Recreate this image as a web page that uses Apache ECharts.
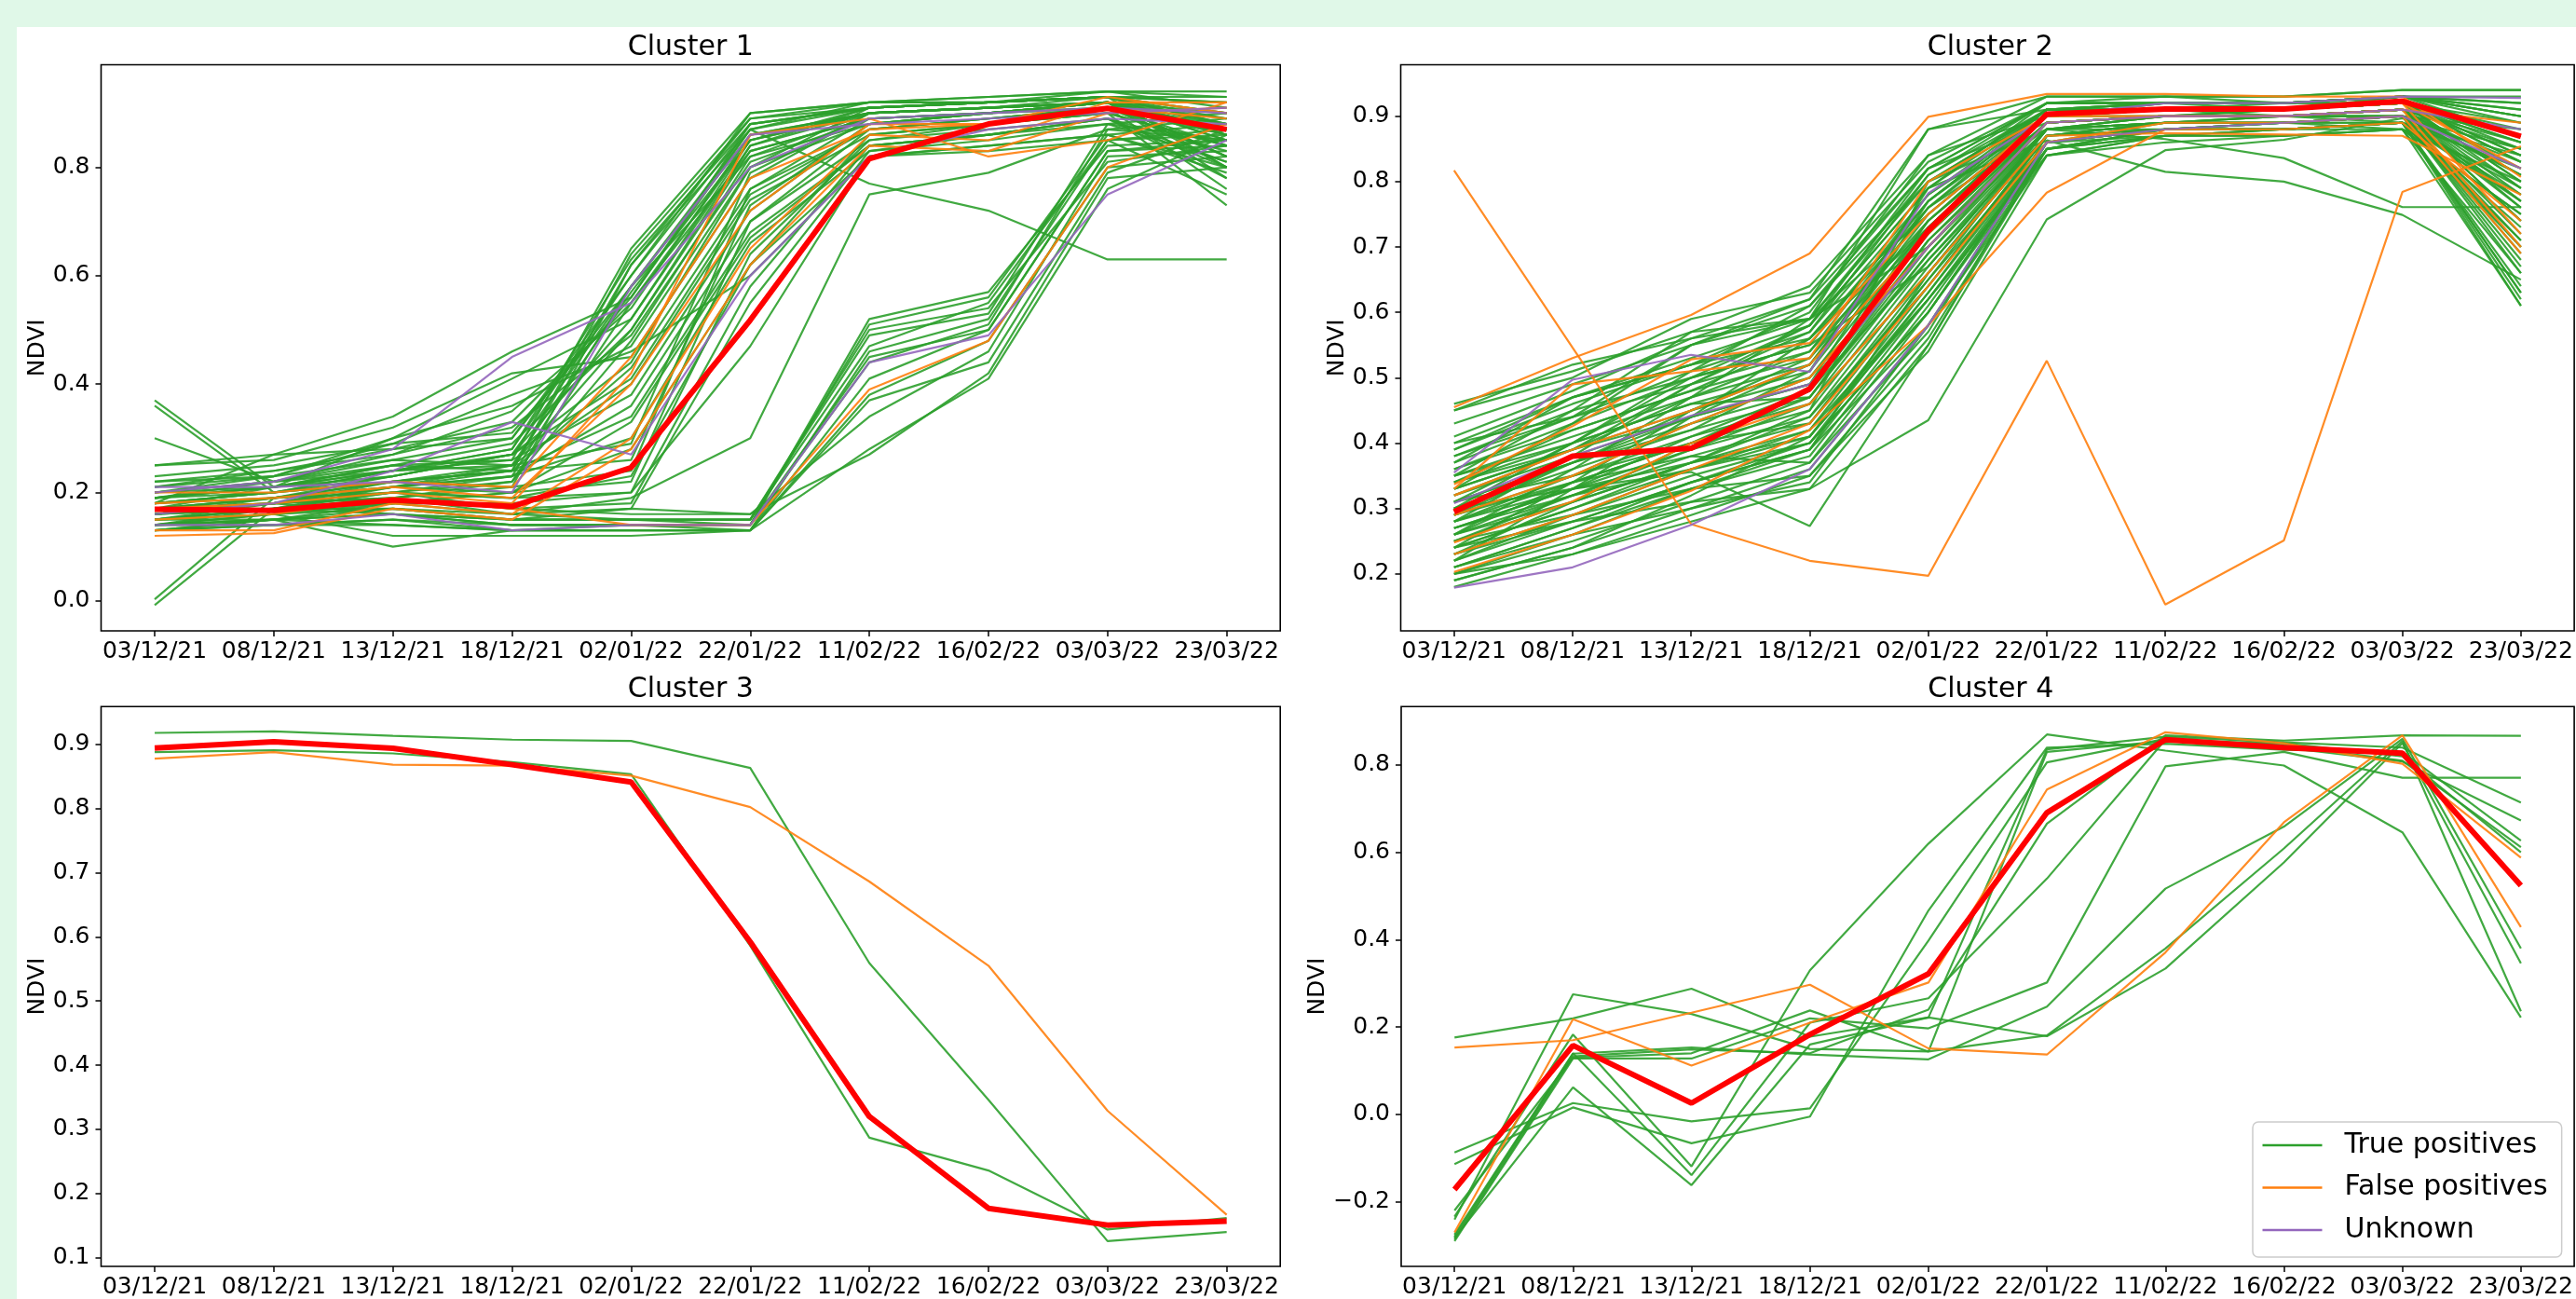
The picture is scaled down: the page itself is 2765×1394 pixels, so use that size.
<!DOCTYPE html>
<html>
<head>
<meta charset="utf-8">
<title>NDVI clusters</title>
<script src="https://cdn.jsdelivr.net/npm/echarts@6.0.0/dist/echarts.min.js"></script>
<style>
  html, body { margin: 0; padding: 0; background: #e0f8e8; }
  #chart { width: 2765px; height: 1394px; }
</style>
</head>
<body>
<div id="chart"></div>
<script>
const dates = ['03/12/21', '08/12/21', '13/12/21', '18/12/21', '02/01/22',
               '22/01/22', '11/02/22', '16/02/22', '03/03/22', '23/03/22'];
const titles = ['Cluster 1', 'Cluster 2', 'Cluster 3', 'Cluster 4'];
const legendNames = ['True positives', 'False positives', 'Unknown'];

// y ranges and tick values
const yRanges = [[-0.0554, 0.9893], [0.1128, 0.9787], [0.0866, 0.9586], [-0.348, 0.934]];
const yTicks = [
  [0, 0.2, 0.4, 0.6, 0.8],
  [0.2, 0.3, 0.4, 0.5, 0.6, 0.7, 0.8, 0.9],
  [0.1, 0.2, 0.3, 0.4, 0.5, 0.6, 0.7, 0.8, 0.9],
  [-0.2, 0, 0.2, 0.4, 0.6, 0.8]
];

// ---- Cluster 1 ----
const c1True = [
  [0.18,0.20,0.24,0.26,0.65,0.90,0.92,0.92,0.93,0.93],
  [0.16,0.19,0.22,0.24,0.64,0.89,0.92,0.93,0.94,0.94],
  [0.20,0.22,0.26,0.30,0.60,0.88,0.91,0.92,0.93,0.92],
  [0.15,0.18,0.21,0.23,0.58,0.86,0.90,0.91,0.92,0.90],
  [0.22,0.24,0.28,0.33,0.55,0.85,0.91,0.92,0.93,0.88],
  [0.17,0.19,0.23,0.27,0.52,0.84,0.90,0.91,0.92,0.86],
  [0.19,0.21,0.25,0.29,0.50,0.83,0.89,0.90,0.91,0.84],
  [0.14,0.17,0.20,0.22,0.48,0.82,0.88,0.90,0.92,0.82],
  [0.21,0.23,0.30,0.36,0.47,0.80,0.91,0.92,0.93,0.80],
  [0.25,0.26,0.32,0.42,0.45,0.78,0.90,0.91,0.92,0.78],
  [0.16,0.18,0.22,0.24,0.43,0.76,0.87,0.89,0.91,0.76],
  [0.18,0.20,0.24,0.25,0.40,0.74,0.86,0.88,0.90,0.73],
  [0.20,0.21,0.25,0.26,0.38,0.72,0.88,0.90,0.92,0.80],
  [0.15,0.17,0.21,0.23,0.36,0.70,0.85,0.87,0.89,0.83],
  [0.17,0.19,0.22,0.24,0.34,0.68,0.84,0.86,0.88,0.85],
  [0.23,0.25,0.29,0.31,0.56,0.87,0.92,0.92,0.94,0.91],
  [0.14,0.16,0.19,0.21,0.62,0.89,0.91,0.92,0.93,0.89],
  [0.19,0.22,0.27,0.35,0.54,0.86,0.90,0.91,0.92,0.87],
  [0.30,0.22,0.24,0.28,0.60,0.90,0.92,0.93,0.94,0.93],
  [0.36,0.20,0.22,0.25,0.50,0.84,0.91,0.92,0.93,0.90],
  [0.37,0.21,0.23,0.27,0.44,0.80,0.88,0.90,0.91,0.88],
  [0.25,0.27,0.28,0.30,0.58,0.82,0.90,0.91,0.92,0.85],
  [0.16,0.18,0.20,0.23,0.30,0.66,0.83,0.85,0.88,0.81],
  [0.18,0.27,0.34,0.46,0.56,0.88,0.91,0.92,0.93,0.92],
  [0.17,0.21,0.30,0.41,0.52,0.85,0.90,0.91,0.93,0.86],
  [0.20,0.23,0.29,0.38,0.46,0.60,0.82,0.84,0.86,0.79],
  [0.13,0.15,0.18,0.20,0.28,0.62,0.82,0.83,0.85,0.75],
  [0.003,0.19,0.21,0.24,0.62,0.87,0.91,0.92,0.93,0.88],
  [-0.008,0.17,0.19,0.22,0.55,0.83,0.89,0.90,0.92,0.82],
  [0.17,0.18,0.19,0.16,0.19,0.30,0.75,0.79,0.87,0.85],
  [0.19,0.21,0.24,0.27,0.58,0.87,0.77,0.72,0.63,0.63],
  [0.15,0.17,0.20,0.19,0.20,0.47,0.82,0.84,0.86,0.80],
  [0.17,0.19,0.21,0.20,0.22,0.70,0.87,0.89,0.91,0.86],
  [0.15,0.17,0.18,0.18,0.20,0.64,0.85,0.88,0.90,0.84],
  [0.19,0.20,0.22,0.21,0.24,0.76,0.89,0.90,0.92,0.89],
  [0.16,0.18,0.19,0.17,0.18,0.58,0.84,0.86,0.89,0.81],
  [0.19,0.21,0.24,0.28,0.63,0.88,0.91,0.92,0.93,0.90],
  [0.16,0.18,0.21,0.25,0.57,0.85,0.90,0.91,0.92,0.87],
  [0.21,0.24,0.27,0.32,0.49,0.81,0.89,0.90,0.92,0.85],
  [0.18,0.20,0.23,0.27,0.41,0.75,0.87,0.89,0.91,0.82],
  [0.14,0.16,0.18,0.20,0.33,0.67,0.84,0.86,0.89,0.78],
  [0.20,0.22,0.25,0.24,0.26,0.73,0.88,0.90,0.92,0.87],
  [0.17,0.18,0.20,0.19,0.23,0.62,0.86,0.88,0.90,0.84],
  [0.13,0.15,0.17,0.16,0.17,0.55,0.83,0.86,0.89,0.80],
  [0.22,0.23,0.26,0.25,0.29,0.79,0.90,0.91,0.92,0.88],
  [0.15,0.16,0.17,0.15,0.15,0.14,0.52,0.57,0.84,0.85],
  [0.14,0.15,0.16,0.14,0.14,0.14,0.51,0.56,0.86,0.88],
  [0.16,0.17,0.18,0.16,0.15,0.15,0.49,0.53,0.88,0.90],
  [0.13,0.14,0.15,0.13,0.13,0.13,0.46,0.52,0.85,0.86],
  [0.17,0.18,0.16,0.14,0.14,0.14,0.45,0.50,0.83,0.84],
  [0.14,0.15,0.10,0.13,0.13,0.13,0.38,0.48,0.80,0.82],
  [0.15,0.16,0.12,0.12,0.12,0.13,0.37,0.44,0.79,0.87],
  [0.13,0.14,0.14,0.13,0.13,0.13,0.28,0.41,0.76,0.86],
  [0.18,0.19,0.20,0.17,0.16,0.16,0.27,0.42,0.78,0.80],
  [0.16,0.17,0.17,0.15,0.17,0.16,0.34,0.46,0.82,0.83],
  [0.14,0.14,0.15,0.14,0.14,0.14,0.44,0.51,0.87,0.89],
  [0.15,0.15,0.16,0.15,0.15,0.15,0.50,0.54,0.81,0.84],
  [0.16,0.17,0.16,0.15,0.15,0.15,0.47,0.55,0.85,0.87],
  [0.14,0.15,0.14,0.13,0.14,0.13,0.41,0.50,0.83,0.85]
];
const c1False = [
  [0.13,0.13,0.18,0.16,0.30,0.65,0.86,0.85,0.92,0.92],
  [0.12,0.125,0.17,0.15,0.28,0.62,0.84,0.83,0.90,0.91],
  [0.20,0.20,0.22,0.21,0.45,0.78,0.87,0.88,0.93,0.90],
  [0.18,0.19,0.21,0.19,0.40,0.72,0.88,0.88,0.91,0.89],
  [0.15,0.16,0.19,0.17,0.14,0.14,0.39,0.48,0.80,0.88],
  [0.17,0.18,0.20,0.18,0.42,0.86,0.89,0.82,0.85,0.92]
];
const c1Unknown = [
  [0.20,0.22,0.28,0.45,0.55,0.80,0.89,0.90,0.91,0.90],
  [0.16,0.18,0.24,0.33,0.27,0.60,0.82,0.87,0.89,0.88],
  [0.14,0.14,0.16,0.13,0.14,0.14,0.44,0.49,0.75,0.85],
  [0.21,0.21,0.22,0.20,0.58,0.86,0.88,0.89,0.90,0.91]
];
const c1Mean = [0.169,0.167,0.186,0.174,0.246,0.518,0.816,0.880,0.909,0.870];

// ---- Cluster 2 ----
const c2True = [
  [0.46,0.51,0.57,0.64,0.84,0.93,0.93,0.93,0.94,0.94],
  [0.45,0.50,0.59,0.63,0.83,0.92,0.92,0.92,0.93,0.93],
  [0.41,0.48,0.56,0.62,0.82,0.92,0.93,0.92,0.93,0.92],
  [0.40,0.47,0.53,0.59,0.80,0.91,0.92,0.92,0.93,0.90],
  [0.39,0.46,0.52,0.58,0.79,0.92,0.92,0.92,0.92,0.88],
  [0.38,0.45,0.50,0.55,0.78,0.91,0.91,0.91,0.92,0.86],
  [0.37,0.44,0.49,0.54,0.77,0.90,0.92,0.91,0.93,0.91],
  [0.36,0.42,0.48,0.53,0.76,0.91,0.91,0.91,0.92,0.84],
  [0.35,0.41,0.47,0.52,0.75,0.90,0.91,0.92,0.93,0.89],
  [0.34,0.40,0.46,0.51,0.74,0.89,0.90,0.90,0.91,0.82],
  [0.33,0.39,0.45,0.50,0.73,0.90,0.91,0.91,0.92,0.80],
  [0.32,0.38,0.44,0.49,0.72,0.89,0.90,0.90,0.91,0.85],
  [0.31,0.37,0.43,0.48,0.71,0.88,0.90,0.90,0.91,0.78],
  [0.30,0.36,0.42,0.47,0.70,0.89,0.90,0.91,0.92,0.87],
  [0.29,0.35,0.41,0.46,0.69,0.88,0.89,0.89,0.90,0.76],
  [0.28,0.34,0.40,0.45,0.68,0.87,0.89,0.89,0.90,0.83],
  [0.27,0.33,0.39,0.44,0.67,0.88,0.90,0.90,0.91,0.74],
  [0.26,0.32,0.38,0.43,0.66,0.87,0.89,0.90,0.90,0.88],
  [0.25,0.31,0.37,0.42,0.65,0.86,0.88,0.89,0.90,0.72],
  [0.24,0.30,0.36,0.41,0.64,0.87,0.89,0.89,0.90,0.81],
  [0.23,0.29,0.35,0.40,0.63,0.86,0.88,0.88,0.89,0.70],
  [0.22,0.28,0.34,0.39,0.62,0.85,0.88,0.88,0.89,0.79],
  [0.21,0.27,0.33,0.38,0.61,0.86,0.89,0.89,0.90,0.68],
  [0.20,0.25,0.31,0.37,0.60,0.85,0.88,0.89,0.89,0.77],
  [0.19,0.24,0.30,0.36,0.58,0.84,0.87,0.88,0.89,0.64],
  [0.18,0.23,0.29,0.35,0.56,0.85,0.88,0.88,0.89,0.62],
  [0.26,0.36,0.47,0.59,0.81,0.92,0.92,0.92,0.93,0.92],
  [0.30,0.40,0.51,0.61,0.80,0.91,0.92,0.92,0.93,0.90],
  [0.28,0.38,0.49,0.57,0.78,0.90,0.92,0.92,0.92,0.87],
  [0.33,0.43,0.55,0.59,0.75,0.90,0.91,0.91,0.92,0.85],
  [0.22,0.33,0.44,0.56,0.77,0.91,0.91,0.91,0.92,0.83],
  [0.35,0.45,0.57,0.59,0.70,0.89,0.90,0.90,0.91,0.81],
  [0.24,0.34,0.45,0.53,0.73,0.89,0.90,0.91,0.92,0.79],
  [0.31,0.40,0.50,0.55,0.67,0.88,0.90,0.90,0.91,0.76],
  [0.27,0.32,0.36,0.40,0.60,0.86,0.88,0.88,0.89,0.73],
  [0.21,0.26,0.30,0.34,0.58,0.86,0.88,0.88,0.89,0.71],
  [0.20,0.23,0.28,0.33,0.55,0.85,0.87,0.87,0.88,0.66],
  [0.25,0.29,0.33,0.35,0.54,0.84,0.87,0.88,0.89,0.63],
  [0.29,0.34,0.38,0.37,0.57,0.87,0.88,0.88,0.89,0.61],
  [0.23,0.28,0.34,0.39,0.66,0.88,0.89,0.90,0.91,0.86],
  [0.40,0.44,0.55,0.62,0.88,0.93,0.93,0.93,0.94,0.94],
  [0.30,0.33,0.356,0.273,0.55,0.86,0.87,0.87,0.88,0.75],
  [0.24,0.28,0.31,0.33,0.435,0.742,0.848,0.864,0.897,0.85],
  [0.31,0.37,0.42,0.51,0.79,0.863,0.815,0.80,0.749,0.65],
  [0.34,0.39,0.44,0.52,0.76,0.88,0.865,0.836,0.761,0.761],
  [0.26,0.31,0.37,0.45,0.80,0.88,0.88,0.89,0.88,0.61],
  [0.33,0.39,0.49,0.58,0.82,0.89,0.90,0.90,0.89,0.63],
  [0.37,0.47,0.52,0.60,0.84,0.90,0.91,0.90,0.90,0.70],
  [0.45,0.52,0.56,0.59,0.88,0.91,0.92,0.92,0.93,0.91],
  [0.19,0.24,0.32,0.41,0.62,0.84,0.86,0.87,0.88,0.80],
  [0.43,0.49,0.55,0.61,0.82,0.92,0.92,0.92,0.93,0.90],
  [0.38,0.44,0.51,0.57,0.81,0.91,0.92,0.92,0.93,0.87],
  [0.36,0.43,0.50,0.58,0.79,0.91,0.91,0.91,0.92,0.83],
  [0.34,0.42,0.48,0.56,0.76,0.90,0.91,0.91,0.92,0.80],
  [0.32,0.39,0.47,0.54,0.74,0.90,0.90,0.90,0.91,0.77],
  [0.30,0.37,0.45,0.52,0.72,0.89,0.90,0.90,0.91,0.74],
  [0.28,0.35,0.43,0.50,0.70,0.88,0.89,0.90,0.90,0.71],
  [0.27,0.33,0.41,0.48,0.68,0.88,0.89,0.89,0.90,0.69],
  [0.25,0.32,0.39,0.46,0.66,0.87,0.89,0.89,0.90,0.67],
  [0.24,0.30,0.37,0.44,0.64,0.87,0.88,0.89,0.89,0.84],
  [0.22,0.29,0.36,0.42,0.62,0.86,0.88,0.88,0.89,0.82],
  [0.21,0.27,0.34,0.40,0.60,0.86,0.88,0.88,0.89,0.78],
  [0.20,0.26,0.33,0.39,0.58,0.85,0.87,0.88,0.88,0.75],
  [0.26,0.34,0.40,0.48,0.74,0.90,0.91,0.91,0.92,0.89],
  [0.29,0.37,0.44,0.49,0.77,0.91,0.91,0.91,0.92,0.86],
  [0.39,0.47,0.52,0.56,0.73,0.90,0.91,0.91,0.92,0.84],
  [0.35,0.40,0.46,0.47,0.69,0.89,0.90,0.90,0.91,0.81],
  [0.31,0.35,0.40,0.43,0.65,0.88,0.89,0.89,0.90,0.77],
  [0.23,0.31,0.40,0.47,0.71,0.89,0.90,0.90,0.91,0.79],
  [0.28,0.33,0.37,0.41,0.63,0.87,0.88,0.89,0.90,0.66]
];
const c2False = [
  [0.817,0.546,0.276,0.220,0.197,0.526,0.153,0.251,0.784,0.854],
  [0.455,0.53,0.596,0.69,0.899,0.934,0.934,0.93,0.93,0.807],
  [0.337,0.426,0.528,0.553,0.75,0.90,0.90,0.90,0.91,0.70],
  [0.248,0.311,0.40,0.46,0.66,0.87,0.874,0.872,0.87,0.78],
  [0.203,0.26,0.327,0.42,0.58,0.783,0.88,0.88,0.89,0.74],
  [0.29,0.35,0.43,0.50,0.70,0.89,0.90,0.90,0.91,0.89],
  [0.32,0.39,0.45,0.52,0.72,0.90,0.91,0.91,0.92,0.72],
  [0.23,0.29,0.36,0.43,0.64,0.86,0.89,0.89,0.90,0.69],
  [0.33,0.49,0.51,0.53,0.80,0.90,0.91,0.91,0.92,0.82]
];
const c2Unknown = [
  [0.179,0.21,0.275,0.36,0.58,0.86,0.88,0.89,0.90,0.82],
  [0.355,0.497,0.535,0.509,0.782,0.90,0.92,0.92,0.93,0.928],
  [0.308,0.38,0.442,0.49,0.70,0.89,0.90,0.90,0.91,0.88]
];
const c2Mean = [0.295,0.380,0.392,0.483,0.725,0.903,0.911,0.911,0.923,0.869];

// ---- Cluster 3 ----
const c3True = [
  [0.9175,0.920,0.913,0.907,0.905,0.863,0.559,0.346,0.126,0.140],
  [0.8876,0.8905,0.8856,0.872,0.853,0.586,0.287,0.236,0.144,0.162]
];
const c3False = [
  [0.8774,0.8876,0.868,0.8665,0.851,0.802,0.686,0.555,0.329,0.167]
];
const c3Unknown = [];
const c3Mean = [0.894,0.9036,0.8935,0.868,0.841,0.592,0.320,0.177,0.151,0.157];

// ---- Cluster 4 ----
const c4True = [
  [0.176,0.220,0.288,0.178,0.222,0.836,0.865,0.852,0.840,0.714],
  [-0.241,0.275,0.230,0.150,0.144,0.181,0.380,0.609,0.855,0.236],
  [-0.087,0.026,-0.016,0.014,0.398,0.806,0.860,0.845,0.810,0.612],
  [-0.114,0.016,-0.066,-0.005,0.467,0.840,0.849,0.835,0.830,0.627],
  [-0.234,0.183,-0.119,0.330,0.620,0.870,0.833,0.799,0.646,0.222],
  [-0.280,0.139,0.153,0.137,0.126,0.247,0.517,0.659,0.860,0.380],
  [-0.286,0.133,0.149,0.140,0.240,0.666,0.868,0.856,0.868,0.867],
  [-0.290,0.128,0.128,0.220,0.197,0.302,0.797,0.830,0.771,0.771],
  [-0.275,0.140,-0.139,0.210,0.266,0.540,0.858,0.840,0.808,0.673],
  [-0.283,0.062,-0.162,0.160,0.222,0.179,0.334,0.577,0.850,0.346],
  [-0.220,0.130,0.140,0.238,0.144,0.830,0.855,0.850,0.820,0.600]
];
const c4False = [
  [0.153,0.170,0.233,0.297,0.151,0.137,0.371,0.669,0.868,0.429],
  [-0.270,0.218,0.112,0.210,0.302,0.744,0.875,0.850,0.803,0.588]
];
const c4Unknown = [];
const c4Mean = [-0.172,0.158,0.026,0.183,0.322,0.691,0.858,0.840,0.827,0.524];

const clusters = [
  { tp: c1True, fp: c1False, unk: c1Unknown, mean: c1Mean },
  { tp: c2True, fp: c2False, unk: c2Unknown, mean: c2Mean },
  { tp: c3True, fp: c3False, unk: c3Unknown, mean: c3Mean },
  { tp: c4True, fp: c4False, unk: c4Unknown, mean: c4Mean }
];

// subplot frames in pixels
const panels = [
  { left: 108.5, top: 69.5, width: 1265.7, height: 607.5, nameGap: 56 },
  { left: 1503.5, top: 69.5, width: 1265.5, height: 607.5, nameGap: 56 },
  { left: 108.5, top: 758.2, width: 1265.7, height: 607.1, nameGap: 56 },
  { left: 1504, top: 758.2, width: 1265.5, height: 607.1, nameGap: 76 }
];

const GREEN = '#2ca02c', ORANGE = '#ff7f0e', PURPLE = '#9467bd', RED = '#ff0000';
const FONT = '"DejaVu Sans", "Liberation Sans", sans-serif';
const xIdx = dates.map((d, i) => i);

function fmtY(v) {
  const s = Math.abs(v).toFixed(1);
  return (v < -1e-9 ? '\u2212' : '') + s;
}

function lineSeries(rows, name, color, width, k, z) {
  return rows.map(vals => ({
    type: 'line',
    name: name,
    xAxisIndex: k,
    yAxisIndex: k,
    data: vals.map((v, i) => [i, v]),
    symbol: 'none',
    color: color,
    lineStyle: { color: color, width: width, opacity: name === 'Mean' ? 1 : 0.9 },
    silent: true,
    animation: false,
    z: z
  }));
}

let series = [];
clusters.forEach((c, k) => {
  series = series.concat(lineSeries(c.tp, 'True positives', GREEN, 2.2, k, 2));
  series = series.concat(lineSeries(c.fp, 'False positives', ORANGE, 2.2, k, 3));
  series = series.concat(lineSeries(c.unk, 'Unknown', PURPLE, 2.2, k, 3));
  series = series.concat(lineSeries([c.mean], 'Mean', RED, 6, k, 5));
});

const chart = echarts.init(document.getElementById('chart'));

const option = {
  animation: false,
  backgroundColor: 'transparent',
  grid: panels.map(p => ({
    left: p.left, top: p.top, width: p.width, height: p.height,
    show: true, borderColor: '#000', borderWidth: 1.6,
    backgroundColor: 'transparent', containLabel: false
  })),
  xAxis: panels.map((p, k) => ({
    type: 'value',
    gridIndex: k,
    min: -0.45,
    max: 9.45,
    axisLine: { show: false, onZero: false },
    splitLine: { show: false },
    axisTick: { show: true, length: 6, lineStyle: { color: '#000', width: 1.5 }, customValues: xIdx },
    axisLabel: {
      customValues: xIdx,
      formatter: v => dates[Math.round(v)],
      color: '#000', fontSize: 25, fontFamily: FONT, lineHeight: 25, margin: 10
    }
  })),
  yAxis: panels.map((p, k) => ({
    type: 'value',
    gridIndex: k,
    min: yRanges[k][0],
    max: yRanges[k][1],
    name: 'NDVI',
    nameLocation: 'middle',
    nameGap: p.nameGap,
    nameTextStyle: { fontSize: 25, color: '#000', fontFamily: FONT, lineHeight: 25 },
    axisLine: { show: false, onZero: false },
    splitLine: { show: false },
    axisTick: { show: true, length: 6, lineStyle: { color: '#000', width: 1.5 }, customValues: yTicks[k] },
    axisLabel: {
      customValues: yTicks[k],
      formatter: fmtY,
      color: '#000', fontSize: 25, fontFamily: FONT, margin: 12
    }
  })),
  legend: {
    data: legendNames,
    orient: 'vertical',
    left: 2418,
    top: 1204,
    icon: 'rect',
    itemWidth: 64,
    itemHeight: 2.5,
    itemGap: 15.5,
    padding: [10, 15, 14, 10.5],
    backgroundColor: 'rgba(255,255,255,0.8)',
    borderColor: '#cccccc',
    borderWidth: 1.5,
    borderRadius: 6,
    selectedMode: false,
    textStyle: { fontSize: 30, color: '#000', fontFamily: FONT, lineHeight: 30, padding: [0, 0, 0, 19] }
  },
  graphic: [
    { type: 'rect', silent: true, z: -10, shape: { x: 18, y: 29, width: 2747, height: 1365 }, style: { fill: '#ffffff' } }
  ].concat(panels.map((p, k) => ({
    type: 'text',
    silent: true,
    x: p.left + p.width / 2,
    y: p.top - 18,
    style: {
      text: titles[k], fill: '#000', font: '30px ' + FONT,
      align: 'center', verticalAlign: 'middle', textAlign: 'center', textVerticalAlign: 'middle'
    }
  }))),
  series: series
};

chart.setOption(option);
</script>
</body>
</html>
